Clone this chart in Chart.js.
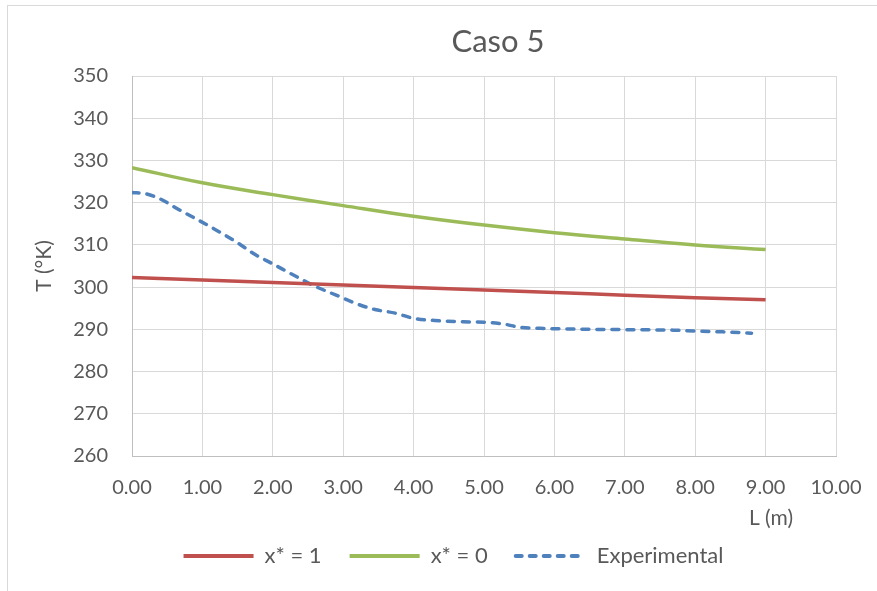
<!DOCTYPE html>
<html>
<head>
<meta charset="utf-8">
<script src="https://cdn.jsdelivr.net/npm/chart.js@4.4.1/dist/chart.umd.min.js"></script>
<style>
  body { margin: 0; background: #fff; }
  #wrap { position: relative; width: 877px; height: 591px; }
</style>
</head>
<body>
<div id="wrap"><canvas id="caso5" width="877" height="591"></canvas></div>
<script>
// x* = 1 and x* = 0 curves (L in m, T in K)
var lModel = [0, 1, 2, 3, 4, 5, 6, 7, 8, 9];
var tX1 = [302.3, 301.7, 301.1, 300.5, 299.9, 299.3, 298.7, 298.1, 297.5, 297.0];
var tX0 = [328.3, 324.7, 321.9, 319.3, 316.8, 314.7, 312.9, 311.4, 310.0, 308.9];

// experimental points
var lExp = [0, 0.2, 0.4, 0.65, 0.95, 1.25, 1.5, 1.75, 2.0, 2.3, 2.6, 2.9, 3.2, 3.45, 3.75,
            4.0, 4.3, 4.7, 5.1, 5.3, 5.5, 5.9, 6.5, 7.2, 7.7, 8.0, 8.4, 8.8];
var tExp = [322.4, 322.1, 320.9, 318.5, 315.8, 313.0, 310.5, 307.7, 305.5, 302.8, 300.2, 298.1, 296.0, 294.7, 293.8,
            292.6, 292.1, 291.8, 291.6, 291.2, 290.5, 290.2, 290.0, 289.9, 289.8, 289.6, 289.4, 289.1];

var xTicks = [0, 1, 2, 3, 4, 5, 6, 7, 8, 9, 10];
var yMin = 260, yMax = 350, yStep = 10;

function toPoints(xs, ys) {
    var pts = [];
    for (var i = 0; i < xs.length; i++) pts.push({ x: xs[i], y: ys[i] });
    return pts;
}

var textColor = '#595959';
Chart.defaults.font.family = 'Lato, "Open Sans", sans-serif';
Chart.defaults.color = textColor;

// chart title, x label and outer frame
var extraText = {
    id: 'extraText',
    beforeDraw: function (chart) {
        var ctx = chart.ctx;
        ctx.save();
        ctx.strokeStyle = '#D9D9D9';
        ctx.lineWidth = 1;
        ctx.strokeRect(7.5, 5.5, 900, 600);
        ctx.restore();
    },
    afterDraw: function (chart) {
        var ctx = chart.ctx, a = chart.chartArea;
        ctx.save();
        ctx.fillStyle = textColor;
        ctx.textAlign = 'center';
        ctx.textBaseline = 'middle';
        ctx.font = '31px Lato, "Open Sans", sans-serif';
        ctx.fillText('Caso 5', (a.left + a.right) / 2 + 14, a.top - 34);
        ctx.font = '21px Lato, "Open Sans", sans-serif';
        ctx.fillText('L (m)', a.right - 65, a.bottom + 62);
        ctx.restore();
    }
};

new Chart(document.getElementById('caso5').getContext('2d'), {
    type: 'line',
    data: {
        datasets: [{
            label: 'x* = 1',
            data: toPoints(lModel, tX1),
            borderColor: '#C0504D',
            backgroundColor: '#C0504D',
            borderWidth: 3.5,
            pointRadius: 0,
            tension: 0.4
        }, {
            label: 'x* = 0',
            data: toPoints(lModel, tX0),
            borderColor: '#9BBB59',
            backgroundColor: '#9BBB59',
            borderWidth: 3.5,
            pointRadius: 0,
            tension: 0.4
        }, {
            label: 'Experimental',
            data: toPoints(lExp, tExp),
            borderColor: '#4F81BD',
            backgroundColor: '#4F81BD',
            borderWidth: 3.5,
            borderDash: [7, 8],
            borderCapStyle: 'round',
            pointRadius: 0,
            cubicInterpolationMode: 'monotone'
        }]
    },
    options: {
        responsive: false,
        animation: false,
        layout: { padding: { top: 76, left: 30, right: 0, bottom: 14 } },
        plugins: {
            title: { display: false },
            tooltip: { enabled: false },
            legend: {
                position: 'bottom',
                labels: {
                    usePointStyle: true,
                    pointStyle: 'line',
                    pointStyleWidth: 70,
                    padding: 28,
                    font: { size: 22 },
                    color: textColor,
                    generateLabels: function (chart) {
                        var items = Chart.defaults.plugins.legend.labels.generateLabels(chart);
                        items.forEach(function (it) {
                            var ds = chart.data.datasets[it.datasetIndex];
                            it.lineWidth = 4;
                            it.strokeStyle = ds.borderColor;
                            if (ds.borderDash) {
                                it.lineDash = [6, 8];
                                it.lineCap = 'round';
                            }
                        });
                        return items;
                    }
                }
            }
        },
        scales: {
            x: {
                type: 'linear',
                min: xTicks[0],
                max: xTicks[xTicks.length - 1],
                afterBuildTicks: function (scale) {
                    scale.ticks = xTicks.map(function (v) { return { value: v }; });
                },
                afterFit: function (scale) {
                    scale.height = 61;
                    scale.paddingRight = 41;
                },
                grid: { color: '#D9D9D9', drawTicks: false },
                border: { color: '#BFBFBF' },
                ticks: {
                    padding: 20,
                    font: { size: 20 },
                    maxRotation: 0,
                    callback: function (v) { return Number(v).toFixed(2); }
                }
            },
            y: {
                min: yMin,
                max: yMax,
                afterFit: function (scale) { scale.width = 102; },
                grid: { color: '#D9D9D9', drawTicks: false },
                border: { color: '#BFBFBF' },
                ticks: { stepSize: yStep, padding: 24, font: { size: 20 } },
                title: {
                    display: true,
                    text: 'T (°K)',
                    font: { size: 21 },
                    padding: { top: 2, bottom: 0 }
                }
            }
        }
    },
    plugins: [extraText]
});
</script>
</body>
</html>
